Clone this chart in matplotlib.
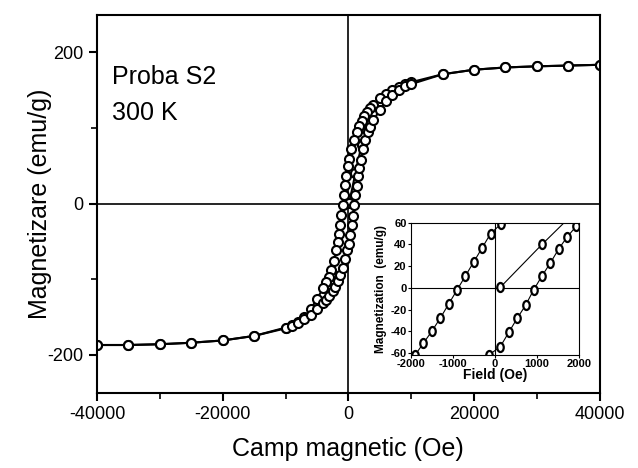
import matplotlib
matplotlib.use('Agg')
import matplotlib.pyplot as plt
from matplotlib.path import Path
from matplotlib.transforms import Affine2D

plt.rcParams['font.family'] = ['Liberation Sans', 'DejaVu Sans']
plt.rcParams['axes.unicode_minus'] = False

# ramura descendenta (de la +40000 la -40000 Oe)
camp_desc = [40000, 35000, 30000, 25000, 20000, 15000, 10000, 9000, 8000, 7000, 6000,
             5000, 4000, 3500, 3000, 2500, 2100, 1700, 1300, 900, 500, 150, -100, -300,
             -500, -700, -900, -1100, -1300, -1500, -1700, -1900, -2300, -2700, -3100,
             -3500, -4000, -5000, -6000, -7000, -8000, -9000, -10000, -15000, -20000,
             -25000, -30000, -35000, -40000]
mag_desc = [183.5, 182.5, 181.5, 180, 177, 171, 160.5, 157.5, 154.5, 150.5, 145.5,
            139, 131, 127, 121.5, 115.5, 109, 102, 94, 84, 72, 59, 50, 37,
            24, 11, -2, -15, -28, -40, -51, -62, -76, -88, -97,
            -104, -112, -126, -140, -150, -156, -160, -164, -175, -181,
            -184, -186, -187, -187]

# ramura ascendenta (de la -40000 la +40000 Oe)
camp_asc = [-40000, -35000, -30000, -25000, -20000, -15000, -10000, -9000, -8000, -7000,
            -6000, -5000, -4000, -3500, -3000, -2500, -2100, -1700, -1300, -900, -500,
            -150, 130, 330, 530, 730, 920, 1120, 1320, 1520, 1720, 1940, 2300, 2700,
            3100, 3500, 4000, 5000, 6000, 7000, 8000, 9000, 10000, 15000, 20000, 25000,
            30000, 35000, 40000]
mag_asc = [-187, -187, -186, -184, -181, -175, -165, -162, -158, -153,
           -147, -140, -132, -128, -122, -116, -110, -103, -95, -85, -73,
           -62, -54, -41, -28, -16, -2, 11, 23, 36, 47, 57, 72, 84,
           94, 101, 110, 124, 135, 144, 150, 155, 158, 171, 177, 180,
           181.5, 182.5, 183.5]

# curba de prima magnetizare
camp_virgin = [130, 1120, 2120, 3110]
mag_virgin = [0.6, 40, 78, 100]

fig = plt.figure(figsize=(6.38, 4.68), dpi=100)
ax = fig.add_axes([0.152, 0.161, 0.788, 0.808])

stil = dict(color='black', lw=1.5, marker='o', ms=6.5, mfc='white', mec='black', mew=1.5)
ax.axhline(0, color='black', lw=1.2, zorder=1)
ax.axvline(0, color='black', lw=1.2, zorder=1)
ax.plot(camp_virgin, mag_virgin, **stil)
ax.plot(camp_desc, mag_desc, **stil)
ax.plot(camp_asc, mag_asc, **stil)

ax.set_xlim(-40000, 40000)
ax.set_ylim(-250, 250)
ax.set_xticks([-40000, -20000, 0, 20000, 40000])
ax.set_xticks([-30000, -10000, 10000, 30000], minor=True)
ax.set_yticks([-200, 0, 200])
ax.set_yticks([-100, 100], minor=True)
ax.tick_params(which='major', direction='out', length=6, width=1.5, labelsize=13)
ax.tick_params(which='minor', direction='out', length=4, width=1.2)
for s in ax.spines.values():
    s.set_linewidth(1.5)
ax.set_xlabel('Camp magnetic (Oe)', fontsize=18, labelpad=10)
ax.set_ylabel('Magnetizare (emu/g)', fontsize=18)
ax.yaxis.set_label_coords(-0.09, 0.5)

ax.text(0.03, 0.835, 'Proba S2', transform=ax.transAxes, fontsize=18, va='center')
ax.text(0.03, 0.74, '300 K', transform=ax.transAxes, fontsize=18, va='center')

# inset: zona centrala a ciclului, markere ovale
oval = Path.unit_circle().transformed(Affine2D().scale(0.72, 1.0))
ins = fig.add_axes([0.6437, 0.2408, 0.2638, 0.2833])
stil_ins = dict(color='black', lw=0.8, marker=oval, ms=6.5, mfc='white', mec='black', mew=1.6)
ins.axhline(0, color='black', lw=0.8, zorder=1)
ins.axvline(0, color='black', lw=0.8, zorder=1)
ins.plot(camp_virgin, mag_virgin, **stil_ins)
ins.plot(camp_desc, mag_desc, **stil_ins)
ins.plot(camp_asc, mag_asc, **stil_ins)
ins.set_xlim(-2000, 2000)
ins.set_ylim(-62, 60)
ins.set_xticks([-2000, -1000, 0, 1000, 2000])
ins.set_yticks([-60, -40, -20, 0, 20, 40, 60])
ins.tick_params(direction='out', length=2, width=0.8, labelsize=8, pad=1)
for lab in ins.get_xticklabels() + ins.get_yticklabels():
    lab.set_fontweight('bold')
for s in ins.spines.values():
    s.set_linewidth(0.8)
ins.set_xlabel('Field (Oe)', fontsize=10, fontweight='bold', labelpad=-1)
ins.set_ylabel('Magnetization  (emu/g)', fontsize=8.5, fontweight='bold', labelpad=2)

fig.savefig('out.png', dpi=100)
